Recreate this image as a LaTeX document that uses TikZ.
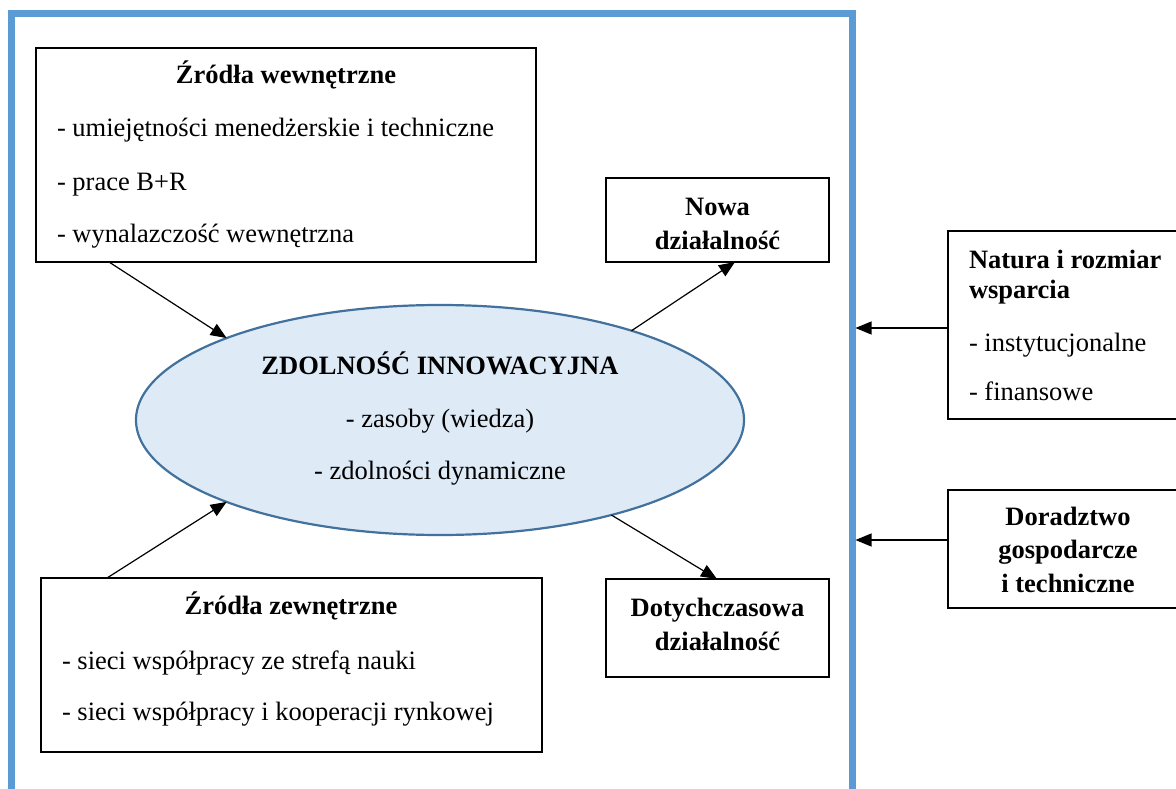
\documentclass[tikz,border=0pt]{standalone}
\usepackage{fontspec}
\setmainfont{Liberation Serif}
\usetikzlibrary{shapes.geometric,arrows.meta}
\definecolor{frameblue}{HTML}{5B9BD5}
\definecolor{corefill}{HTML}{DEEAF6}
\definecolor{coredraw}{HTML}{41719C}

\begin{document}
\begin{tikzpicture}[x=1pt,y=-1pt,
  box/.style={draw=black,line width=2pt,inner sep=0pt,outer sep=0pt},
  txt/.style={inner sep=0pt,outer sep=0pt,font=\fontsize{26.5}{34}\selectfont},
  ttl/.style={txt,font=\fontsize{26.5}{34}\selectfont\bfseries},
  arr/.style={line width=1.2pt,-{Triangle[length=16pt,width=13pt]}}]

\useasboundingbox (0,0) rectangle (1176,789);
\clip (0,0) rectangle (1176,789);

% outer frame
\node[draw=frameblue,line width=7pt,inner sep=0pt,outer sep=3.5pt,
      minimum width=840.5,minimum height=806] (frame) at (431.75,417) {};

% internal sources
\node[box,minimum width=500,minimum height=214] (srcin) at (286,155) {};
\node[ttl,anchor=base] (srcint) at (286,84) {Źródła wewnętrzne};
\node[txt,anchor=base west] (srcin1) at (57,137) {- umiejętności menedżerskie i techniczne};
\node[txt,anchor=base west] (srcin2) at (57,190) {- prace B+R};
\node[txt,anchor=base west] (srcin3) at (57,242) {- wynalazczość wewnętrzna};

% external sources
\node[box,minimum width=501,minimum height=174] (srcex) at (291.5,665) {};
\node[ttl,anchor=base] (srcext) at (291,614) {Źródła zewnętrzne};
\node[txt,anchor=base west] (srcex1) at (62,669) {- sieci współpracy ze strefą nauki};
\node[txt,anchor=base west] (srcex2) at (62,720) {- sieci współpracy i kooperacji rynkowej};

% innovation capability
\node[ellipse,draw=coredraw,fill=corefill,line width=2.2pt,inner sep=0pt,outer sep=0pt,
      minimum width=608,minimum height=230] (core) at (440,420) {};
\node[ttl,anchor=base] (coret) at (440,374) {ZDOLNOŚĆ INNOWACYJNA};
\node[txt,anchor=base] (core1) at (440,427) {- zasoby (wiedza)};
\node[txt,anchor=base] (core2) at (440,479) {- zdolności dynamiczne};

% activities
\node[box,minimum width=223,minimum height=84] (nowa) at (717.5,220) {};
\node[ttl,anchor=base] (nowa1) at (717.5,215) {Nowa};
\node[ttl,anchor=base] (nowa2) at (717.5,249) {działalność};

\node[box,minimum width=223,minimum height=98] (dot) at (717.5,628) {};
\node[ttl,anchor=base] (dot1) at (717.5,616) {Dotychczasowa};
\node[ttl,anchor=base] (dot2) at (717.5,650) {działalność};

% external support
\node[box,minimum width=237,minimum height=188] (natura) at (1066.5,325) {};
\node[ttl,anchor=base west] (natura1) at (969,268) {Natura i rozmiar};
\node[ttl,anchor=base west] (natura2) at (969,298) {wsparcia};
\node[txt,anchor=base west] (natura3) at (969,351) {- instytucjonalne};
\node[txt,anchor=base west] (natura4) at (969,400) {- finansowe};

\node[box,minimum width=237,minimum height=118] (dor) at (1066.5,549) {};
\node[ttl,anchor=base] (dor1) at (1068,525) {Doradztwo};
\node[ttl,anchor=base] (dor2) at (1068,558) {gospodarcze};
\node[ttl,anchor=base] (dor3) at (1068,592) {i techniczne};

% connectors
\draw[arr] (srcin.south -| 109,0) -- (core.159);
\draw[arr] (srcex.north -| 107,0) -- (core.201);
\draw[arr] (core.25) -- (nowa.south -| 735,0);
\draw[arr] (core.331) -- (dot.north -| 717,0);
\draw[arr] (natura.west |- 0,328) -- (frame.east |- 0,328);
\draw[arr] (dor.west |- 0,540) -- (frame.east |- 0,540);
\end{tikzpicture}
\end{document}
